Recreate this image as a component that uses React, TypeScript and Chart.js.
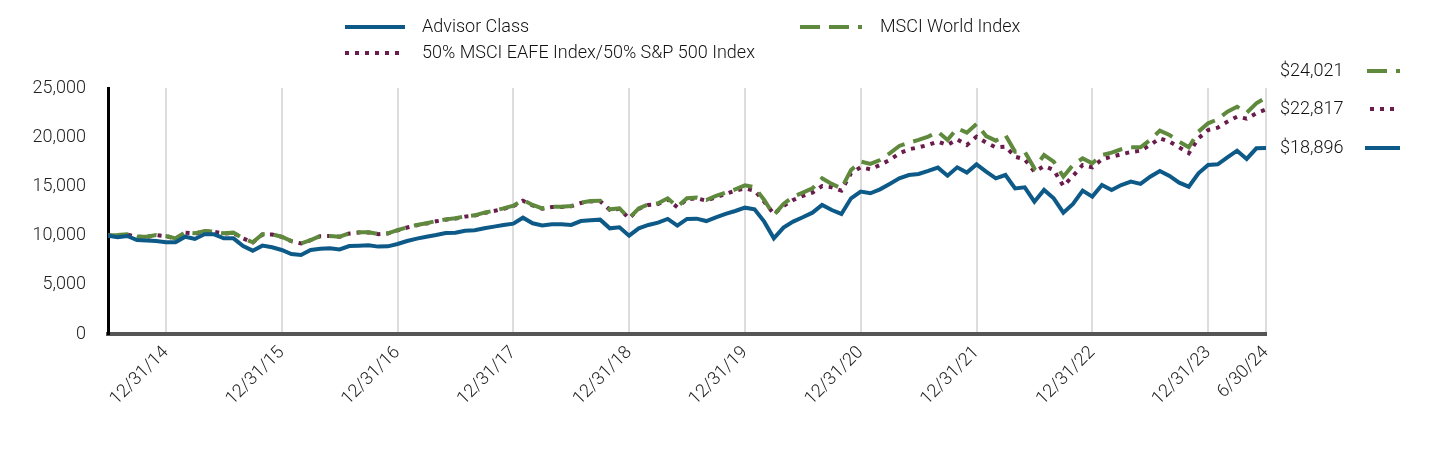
import React, { useEffect, useRef } from "react";
import { Chart, registerables } from "chart.js";

Chart.register(...registerables);

const FONT = "Roboto, 'Noto Sans', sans-serif";
const WEIGHT = 300;

// Month offsets since 6/30/14 for the labelled ticks, and their labels
const xTickMonths = [6, 18, 30, 42, 54, 66, 78, 90, 102, 114, 120];
const xTickLabels = ["12/31/14", "12/31/15", "12/31/16", "12/31/17", "12/31/18", "12/31/19", "12/31/20", "12/31/21", "12/31/22", "12/31/23", "6/30/24"];

const seriesNames = ["Advisor Class", "MSCI World Index", "50% MSCI EAFE Index/50% S&P 500 Index"];

// Monthly values, 6/30/14 .. 6/30/24 (121 points)
const advisorClass = [
  10000, 9830, 9960, 9550, 9490, 9450, 9320, 9320, 9890, 9660, 10130, 10130,
  9720, 9720, 8940, 8470, 8980, 8810, 8540, 8130, 8030, 8540, 8670, 8710,
  8600, 8940, 8980, 9010, 8880, 8910, 9150, 9450, 9690, 9890, 10060, 10270,
  10300, 10500, 10540, 10740, 10910, 11080, 11210, 11820, 11250, 11040, 11150, 11150,
  11080, 11480, 11550, 11620, 10740, 10840, 9990, 10740, 11080, 11320, 11690, 11010,
  11690, 11720, 11480, 11860, 12200, 12500, 12840, 12670, 11420, 9720, 10810, 11420,
  11860, 12330, 13110, 12600, 12200, 13790, 14470, 14300, 14700, 15250, 15820, 16160,
  16260, 16570, 16910, 16090, 16940, 16400, 17240, 16500, 15820, 16160, 14800, 14910,
  13450, 14640, 13790, 12330, 13210, 14570, 13960, 15140, 14640, 15140, 15480, 15250,
  15990, 16570, 16060, 15380, 14970, 16330, 17180, 17240, 17960, 18630, 17790, 18870,
  18896,
];

const msciWorld = [
  10000, 10050, 10130, 9890, 9890, 10060, 9960, 9720, 10330, 10230, 10470, 10400,
  10230, 10300, 9720, 9320, 10130, 10130, 9890, 9450, 9210, 9550, 9960, 9960,
  9890, 10230, 10330, 10330, 10160, 10230, 10550, 10840, 11080, 11250, 11480, 11650,
  11760, 11960, 12060, 12330, 12540, 12770, 13040, 13620, 13110, 12770, 12940, 12940,
  13010, 13350, 13520, 13550, 12670, 12770, 11760, 12770, 13180, 13280, 13790, 12940,
  13790, 13860, 13620, 14030, 14360, 14700, 15110, 14910, 13620, 12090, 13210, 13960,
  14360, 14800, 15820, 15250, 14800, 16670, 17520, 17280, 17680, 18360, 19110, 19450,
  19720, 20060, 20560, 19720, 20900, 20460, 21340, 20120, 19650, 20220, 18530, 18530,
  16840, 18190, 17520, 15990, 17180, 17850, 17350, 18190, 18430, 18770, 18970, 18970,
  19720, 20670, 20220, 19550, 18970, 20560, 21410, 21820, 22600, 23100, 22490, 23440,
  24021,
];

const blendIndex = [
  10000, 10030, 10100, 9880, 9870, 10040, 9950, 9700, 10300, 10200, 10440, 10380,
  10210, 10280, 9710, 9300, 10100, 10110, 9870, 9440, 9200, 9530, 9940, 9950,
  9880, 10210, 10310, 10320, 10150, 10220, 10530, 10820, 11050, 11220, 11450, 11620,
  11730, 11930, 12030, 12300, 12500, 12730, 12990, 13540, 13060, 12730, 12900, 12910,
  12980, 13310, 13470, 13500, 12610, 12720, 11740, 12720, 13110, 13200, 13680, 12880,
  13700, 13790, 13550, 13890, 14230, 14570, 14800, 14570, 13450, 12200, 13010, 13620,
  14030, 14360, 15040, 14910, 14570, 16330, 16940, 16740, 17180, 17680, 18360, 18770,
  18970, 19210, 19550, 19210, 19780, 19210, 20060, 19450, 18970, 19040, 18020, 17750,
  16500, 17070, 16670, 15040, 16060, 17180, 16940, 17750, 18020, 18260, 18500, 18630,
  19210, 19890, 19550, 18970, 18360, 19890, 20730, 20970, 21580, 22090, 21880, 22430,
  22817,
];

const BLUE = "#0d5a88";
const GREEN = "#5f8a3e";
const MAROON = "#6a1c4c";

const DASH_WORLD = [20, 9];
const DASH_BLEND = [4, 6];

const toPoints = (arr: number[]) => arr.map((v, i) => ({ x: i, y: v }));
const money = (v: number) => "$" + v.toLocaleString("en-US");

const overlayPlugin = {
  id: "overlay",
  afterDraw(chart: any) {
    const ctx: CanvasRenderingContext2D = chart.ctx;
    ctx.save();
    const sample = (x1: number, x2: number, y: number, color: string, dash: number[]) => {
      ctx.beginPath();
      ctx.setLineDash(dash);
      ctx.lineCap = "butt";
      ctx.strokeStyle = color;
      ctx.lineWidth = 4;
      ctx.moveTo(x1, y);
      ctx.lineTo(x2, y);
      ctx.stroke();
    };
    ctx.font = `${WEIGHT} 18px ${FONT}`;
    ctx.fillStyle = "#111";
    ctx.textBaseline = "middle";
    ctx.textAlign = "left";
    // legend (2 columns)
    sample(345, 405, 27, BLUE, []);
    ctx.fillText(seriesNames[0], 422, 27);
    sample(345, 405, 53, MAROON, DASH_BLEND);
    ctx.fillText(seriesNames[2], 422, 53);
    sample(800, 862, 27, GREEN, DASH_WORLD);
    ctx.fillText(seriesNames[1], 880, 27);

    // end value labels
    const endItems = [
      { v: msciWorld[msciWorld.length - 1], y: 71, c: GREEN, d: DASH_WORLD, x1: 1367 },
      { v: blendIndex[blendIndex.length - 1], y: 109, c: MAROON, d: DASH_BLEND, x1: 1370 },
      { v: advisorClass[advisorClass.length - 1], y: 148, c: BLUE, d: [], x1: 1365 },
    ];
    endItems.forEach((it) => {
      ctx.fillStyle = "#111";
      ctx.fillText(money(it.v), 1280, it.y);
      sample(it.x1, 1400, it.y, it.c, it.d);
    });
    ctx.restore();
  },
};

export default function App() {
  const canvasRef = useRef<HTMLCanvasElement | null>(null);

  useEffect(() => {
    if (!canvasRef.current) return;
    const chart = new Chart(canvasRef.current, {
      type: "line",
      data: {
        datasets: [
          {
            label: seriesNames[0],
            data: toPoints(advisorClass),
            borderColor: BLUE,
            borderWidth: 4,
            pointRadius: 0,
            tension: 0,
            order: 0,
          },
          {
            label: seriesNames[1],
            data: toPoints(msciWorld),
            borderColor: GREEN,
            borderWidth: 4,
            borderDash: DASH_WORLD,
            pointRadius: 0,
            tension: 0,
            order: 1,
          },
          {
            label: seriesNames[2],
            data: toPoints(blendIndex),
            borderColor: MAROON,
            borderWidth: 4,
            borderDash: DASH_BLEND,
            pointRadius: 0,
            tension: 0,
            order: 2,
          },
        ],
      },
      options: {
        responsive: false,
        animation: false,
        devicePixelRatio: 1,
        layout: { padding: { top: 88, right: 174, left: 0, bottom: 0 } },
        plugins: {
          legend: { display: false },
          tooltip: { enabled: false },
        },
        scales: {
          x: {
            type: "linear",
            min: 0,
            max: 120,
            afterBuildTicks: (s: any) => {
              s.ticks = xTickMonths.map((v) => ({ value: v }));
            },
            afterFit: (s: any) => {
              s.height = 122;
            },
            ticks: {
              autoSkip: false,
              minRotation: 45,
              maxRotation: 45,
              padding: 8,
              color: "#222",
              font: { family: FONT, size: 18, weight: WEIGHT },
              callback: (v: any) => {
                const i = xTickMonths.indexOf(Number(v));
                return i >= 0 ? xTickLabels[i] : "";
              },
            },
            grid: { color: "#dddddd", lineWidth: 2, drawTicks: false },
            border: { color: "#555", width: 4 },
          },
          y: {
            min: 0,
            max: 25000,
            afterFit: (s: any) => {
              s.width = 108;
            },
            ticks: {
              stepSize: 5000,
              padding: 22,
              color: "#222",
              font: { family: FONT, size: 18, weight: WEIGHT },
              callback: (v: any) => Number(v).toLocaleString("en-US"),
            },
            grid: { display: false, drawTicks: false },
            border: { color: "#000", width: 3 },
          },
        },
      },
      plugins: [overlayPlugin],
    });
    return () => chart.destroy();
  }, []);

  return (
    <div style={{ position: "absolute", left: 0, top: 0, width: 1440, height: 456, background: "#fff" }}>
      <canvas ref={canvasRef} width={1440} height={456} style={{ display: "block" }} />
    </div>
  );
}
